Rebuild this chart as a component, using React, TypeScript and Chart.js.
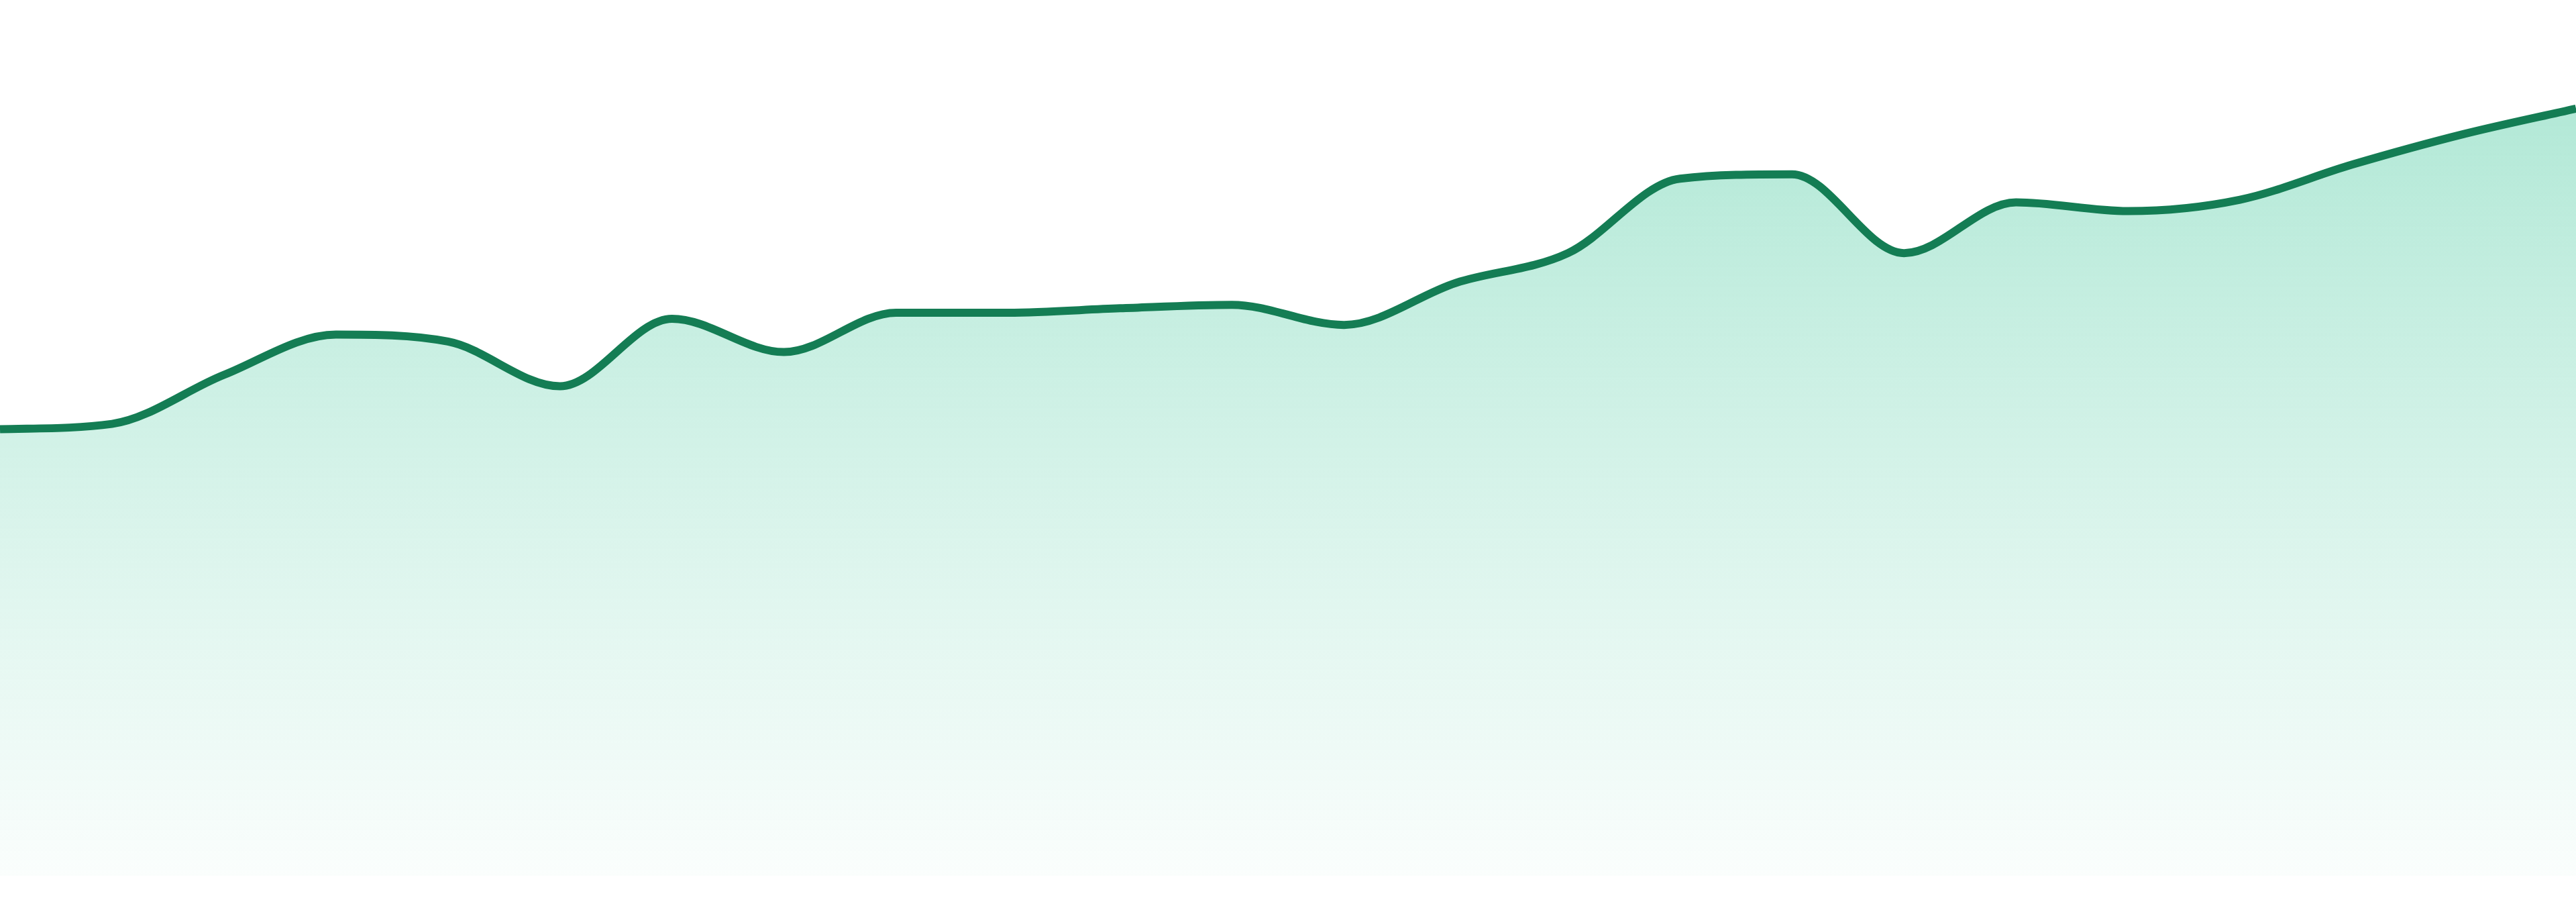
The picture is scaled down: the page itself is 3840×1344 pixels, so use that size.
import { useEffect, useRef } from 'react';
import Chart from 'chart.js/auto';

// 24 hourly points (0–100 scale)
const hours = [
  '00:00', '01:00', '02:00', '03:00', '04:00', '05:00', '06:00', '07:00',
  '08:00', '09:00', '10:00', '11:00', '12:00', '13:00', '14:00', '15:00',
  '16:00', '17:00', '18:00', '19:00', '20:00', '21:00', '22:00', '23:00',
];
const values = [
  51.0, 51.6, 57.2, 61.8, 61.0, 55.9, 63.6, 59.8,
  64.3, 64.3, 64.8, 65.2, 62.9, 67.7, 71.1, 79.6,
  80.1, 71.1, 76.9, 75.9, 77.2, 81.2, 84.7, 87.6,
];
const yMin = 0;
const yMax = 100;

export default function App() {
  const chartRef = useRef<HTMLCanvasElement>(null);
  const chartInstance = useRef<Chart | null>(null);

  useEffect(() => {
    if (!chartRef.current) return;

    if (chartInstance.current) {
      chartInstance.current.destroy();
    }

    chartInstance.current = new Chart(chartRef.current, {
      type: 'line',
      data: {
        labels: hours,
        datasets: [
          {
            data: values,
            borderColor: '#147d54',
            borderWidth: 12,
            pointRadius: 0,
            pointHoverRadius: 0,
            cubicInterpolationMode: 'monotone',
            fill: 'origin',
            // vertical fade from the top of the chart area down to the baseline
            backgroundColor: (ctx: any) => {
              const { chart } = ctx;
              const area = chart.chartArea;
              if (!area) return 'rgba(16, 185, 129, 0.2)';
              const g = chart.ctx.createLinearGradient(0, area.top, 0, area.bottom);
              g.addColorStop(0, 'rgba(16, 185, 129, 0.36)');
              g.addColorStop(1, 'rgba(16, 185, 129, 0.02)');
              return g;
            },
          },
        ],
      },
      options: {
        animation: false,
        responsive: true,
        maintainAspectRatio: false,
        layout: { padding: 0 },
        plugins: {
          legend: { display: false },
          tooltip: { enabled: false },
        },
        scales: {
          x: { display: false },
          y: { display: false, min: yMin, max: yMax },
        },
      },
    });

    return () => {
      if (chartInstance.current) {
        chartInstance.current.destroy();
        chartInstance.current = null;
      }
    };
  }, []);

  return (
    <div style={{ position: 'fixed', left: 0, top: 0, width: '3840px', height: '1305px' }}>
      <canvas ref={chartRef}></canvas>
    </div>
  );
}
